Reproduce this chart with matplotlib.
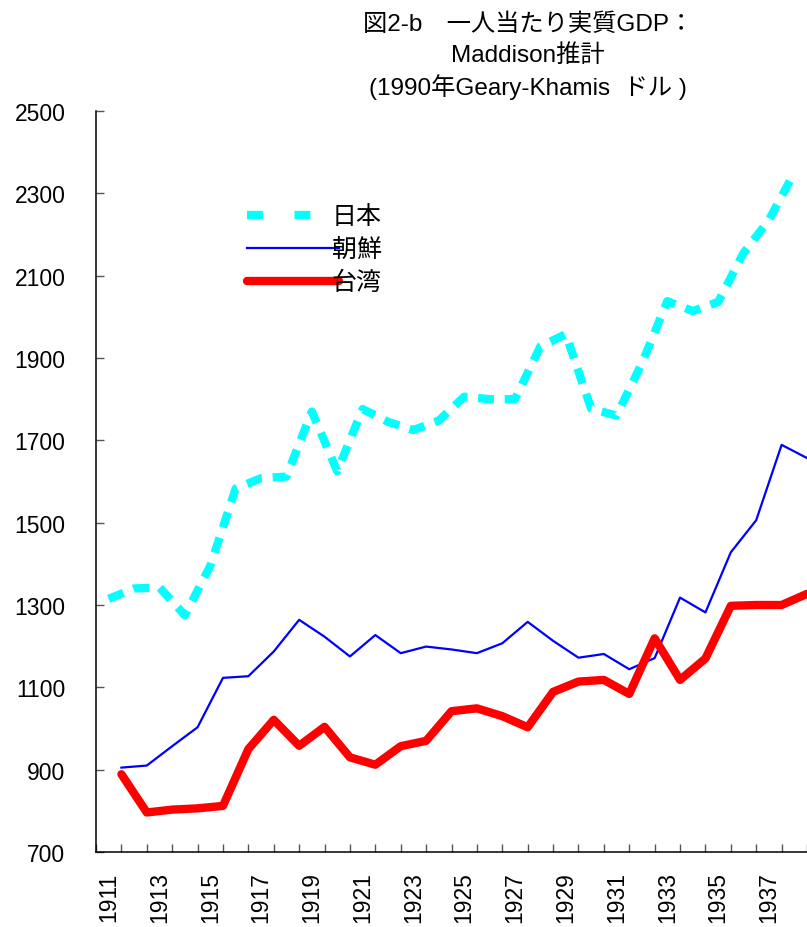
import numpy as np
import matplotlib.pyplot as plt
from matplotlib.lines import Line2D

plt.rcParams['font.family'] = ['Liberation Sans', 'Noto Sans CJK JP']

years = list(range(1911, 1939))
# 1990 Geary-Khamis dollars
japan = [1315, 1340, 1343, 1275, 1395, 1583, 1608, 1612, 1770, 1625,
         1776, 1745, 1725, 1748, 1806, 1800, 1800, 1928, 1958, 1777,
         1760, 1887, 2038, 2014, 2036, 2155, 2235, 2350]
korea = [905, 910, 957, 1003, 1123, 1127, 1187, 1264, 1223, 1175,
         1227, 1183, 1199, 1192, 1183, 1207, 1259, 1213, 1172, 1181,
         1144, 1171, 1318, 1282, 1428, 1506, 1689, 1657]
taiwan = [889, 796, 803, 806, 812, 950, 1021, 958, 1004, 930,
          912, 957, 970, 1042, 1049, 1030, 1003, 1089, 1114, 1118,
          1084, 1219, 1118, 1170, 1298, 1300, 1300, 1327]
labels = ['日本', '朝鮮', '台湾']
title_lines = ['図2-b　一人当たり実質GDP：', 'Maddison推計', '(1990年Geary-Khamis  ドル )']

x = np.arange(len(years))

fig = plt.figure(figsize=(8.07, 9.28), dpi=100)
ax = fig.add_axes([96/807, 1 - 853/928, 711/807, 741/928])

ax.plot(x, japan, color='#00FFFF', lw=6, dashes=(1.9, 1.3), solid_capstyle='butt',
        dash_capstyle='butt', zorder=2)
ax.plot(x + 0.5, korea, color='#0000FF', lw=1.6, zorder=3)
ax.plot(x + 0.5, taiwan, color='#FF0000', lw=6, solid_capstyle='round',
        solid_joinstyle='round', zorder=4)

ax.set_xlim(-0.5, len(years) - 0.5)
ax.set_ylim(700, 2500)
ax.set_yticks(np.arange(700, 2501, 200))
ax.set_xticks(x[::2])
ax.set_xticklabels([str(y) for y in years[::2]], rotation=90)
ax.set_xticks(np.arange(-0.5, len(years), 1), minor=True)

ax.tick_params(axis='y', direction='in', length=6, width=1, color='#555555',
               labelsize=16.5, pad=22)
ax.tick_params(axis='x', which='major', length=0, labelsize=16.5, pad=14)
ax.tick_params(axis='x', which='minor', direction='in', length=6, width=1,
               color='#555555')
for s in ['top', 'right']:
    ax.spines[s].set_visible(False)
for s in ['left', 'bottom']:
    ax.spines[s].set_linewidth(1.1)

handles = [Line2D([], [], color='#00FFFF', lw=6, dashes=(1.9, 3.8), dash_capstyle='butt'),
           Line2D([], [], color='#0000FF', lw=1.6),
           Line2D([], [], color='#FF0000', lw=6, solid_capstyle='round')]
ax.legend(handles, labels, loc='upper left', bbox_to_anchor=(0.212, 0.874),
          frameon=False, fontsize=18, handlelength=3.7, handletextpad=-0.3,
          labelspacing=0.36, borderpad=0, borderaxespad=0)

# three title lines, centred over the chart
for i, line in enumerate(title_lines):
    fig.text(528/807, 1 - (25 + 31*i)/928, line, ha='center', va='center',
             fontsize=17.5)

fig.savefig('out.png', dpi=100)
